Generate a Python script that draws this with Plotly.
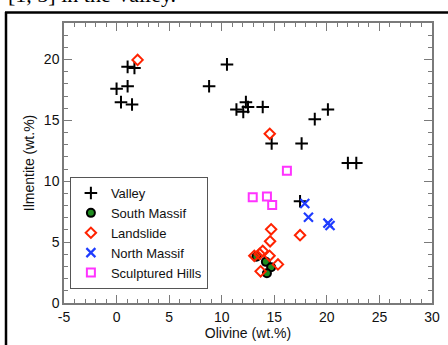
import plotly.graph_objects as go

# ---- data ----
valley_x = [0.0, 1.05, 1.7, 1.05, 0.42, 1.47, 8.8, 10.5, 11.4, 12.05, 12.3, 12.5, 13.9,
            14.75, 17.6, 18.85, 20.1, 22.0, 22.8, 17.45]
valley_y = [17.6, 19.4, 19.3, 17.8, 16.5, 16.3, 17.8, 19.6, 15.9, 15.7, 16.5, 16.1, 16.1,
            13.1, 13.1, 15.1, 15.9, 11.5, 11.5, 8.36]

south_x = [13.3, 14.2, 14.7, 14.3]
south_y = [3.8, 3.38, 2.93, 2.45]

land_x = [2.0, 14.57, 14.7, 17.45, 14.6, 13.9, 13.6, 13.1, 14.55, 15.35, 13.7]
land_y = [19.97, 13.9, 6.05, 5.57, 5.07, 4.28, 4.03, 3.88, 3.88, 3.17, 2.6]

north_x = [17.9, 18.25, 20.1, 20.3]
north_y = [8.17, 7.05, 6.56, 6.37]

hills_x = [16.2, 12.95, 14.3, 14.8]
hills_y = [10.87, 8.69, 8.74, 8.06]

x_range = [-5, 30]
y_range = [0, 23]
x_ticks = [-5, 0, 5, 10, 15, 20, 25, 30]
x_ticklabels = ["-5", "0", "5", "10", "15", "20", "25", "30"]
y_ticks = [0, 5, 10, 15, 20]

FONT = "Liberation Sans, Arial, Helvetica, sans-serif"

fig = go.Figure()
fig.add_trace(go.Scatter(x=valley_x, y=valley_y, mode="markers", name="Valley",
                         marker=dict(symbol="cross-thin", size=9, color="black",
                                     line=dict(color="black", width=2))))
fig.add_trace(go.Scatter(x=south_x, y=south_y, mode="markers", name="South Massif",
                         marker=dict(symbol="circle", size=8, color="#1e8c1e",
                                     line=dict(color="black", width=2))))
fig.add_trace(go.Scatter(x=land_x, y=land_y, mode="markers", name="Landslide",
                         marker=dict(symbol="diamond-open", size=8, color="#ff2200",
                                     line=dict(color="#ff2200", width=2))))
fig.add_trace(go.Scatter(x=north_x, y=north_y, mode="markers", name="North Massif",
                         marker=dict(symbol="x-thin", size=9, color="#1f3cff",
                                     line=dict(color="#1f3cff", width=2.2))))
fig.add_trace(go.Scatter(x=hills_x, y=hills_y, mode="markers", name="Sculptured Hills",
                         marker=dict(symbol="square-open", size=8, color="#ff33ff",
                                     line=dict(color="#ff33ff", width=2))))

axis_common = dict(showline=True, linecolor="#7a7a7a", linewidth=1.5, mirror="allticks",
                   ticks="inside", ticklen=8, tickwidth=1.2, tickcolor="#7a7a7a",
                   showgrid=False, zeroline=False, automargin=False,
                   tickfont=dict(family=FONT, size=14, color="#111"),
                   minor=dict(ticks="inside", ticklen=4, tickwidth=1, tickcolor="#7a7a7a", dtick=1))

fig.update_xaxes(range=x_range, tickmode="array", tickvals=x_ticks, ticktext=x_ticklabels,
                 title=dict(text="Olivine (wt.%)", font=dict(family=FONT, size=14, color="#111"), standoff=0),
                 **axis_common)
fig.update_yaxes(range=y_range, tickmode="array", tickvals=y_ticks,
                 title=dict(text="Ilmentite (wt.%)", font=dict(family=FONT, size=14, color="#111"), standoff=6),
                 **axis_common)

fig.update_layout(
    width=448, height=345,
    margin=dict(l=64, r=16, t=23, b=42),
    paper_bgcolor="white", plot_bgcolor="white",
    font=dict(family=FONT, size=13, color="#111"),
    legend=dict(x=0.016, y=0.05, xanchor="left", yanchor="bottom",
                bgcolor="white", bordercolor="#555", borderwidth=1,
                font=dict(family=FONT, size=13, color="#111"), tracegroupgap=0,
                itemwidth=30),
    shapes=[
        dict(type="line", xref="paper", yref="paper", x0=-58/368, x1=-58/368,
             y0=1 + 11/280, y1=-42/280 - 0.01, line=dict(color="black", width=2.5)),
        dict(type="line", xref="paper", yref="paper", x0=-59/368, x1=1 + 16/368,
             y0=1 + 10.5/280, y1=1 + 10.5/280, line=dict(color="black", width=2.5)),
    ],
    annotations=[
        dict(text="[1, 5] in the Valley.", xref="paper", yref="paper",
             x=-58/368, y=1 + 14/280, xanchor="left", yanchor="bottom",
             showarrow=False, font=dict(family="Liberation Serif, Times New Roman, serif", size=22, color="black")),
    ],
)

fig.write_html("out.html", config={"displayModeBar": False},
               post_script="document.body.style.margin='0px';")
